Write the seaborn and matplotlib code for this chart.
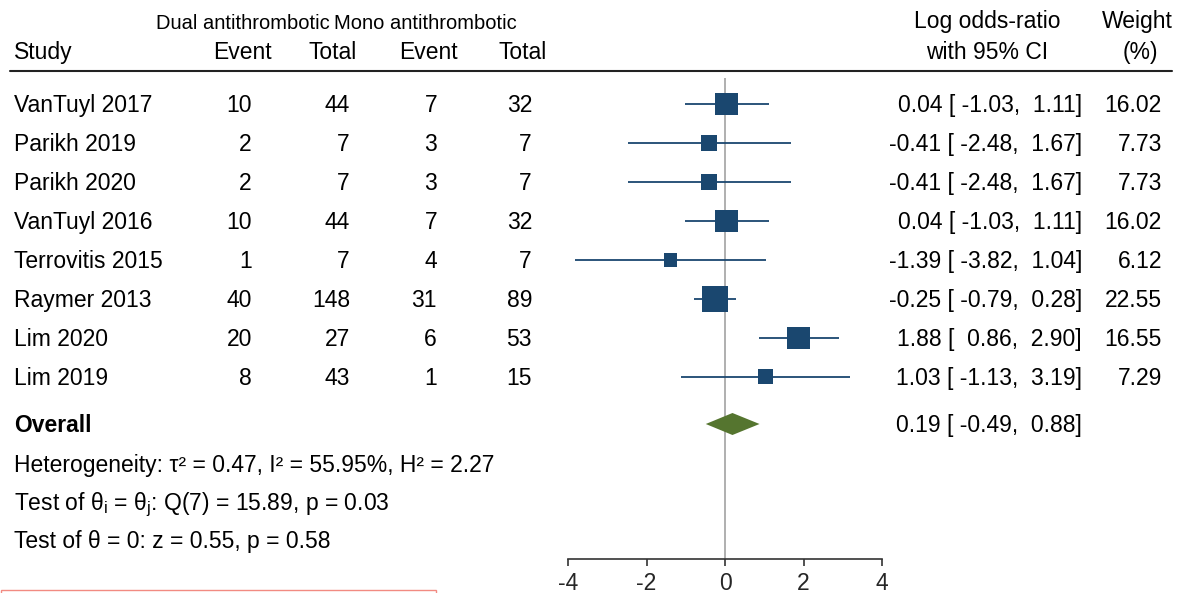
import numpy as np
import pandas as pd
import matplotlib
matplotlib.use("Agg")
import matplotlib.pyplot as plt
import seaborn as sns
from matplotlib.lines import Line2D
from matplotlib.patches import Rectangle

# ---------------- data ----------------
studies = ["VanTuyl 2017", "Parikh 2019", "Parikh 2020", "VanTuyl 2016",
           "Terrovitis 2015", "Raymer 2013", "Lim 2020", "Lim 2019"]
dual_event = [10, 2, 2, 10, 1, 40, 20, 8]
dual_total = [44, 7, 7, 44, 7, 148, 27, 43]
mono_event = [7, 3, 3, 7, 4, 31, 6, 1]
mono_total = [32, 7, 7, 32, 7, 89, 53, 15]
log_or = [0.04, -0.41, -0.41, 0.04, -1.39, -0.25, 1.88, 1.03]
ci_low = [-1.03, -2.48, -2.48, -1.03, -3.82, -0.79, 0.86, -1.13]
ci_high = [1.11, 1.67, 1.67, 1.11, 1.04, 0.28, 2.90, 3.19]
weights = [16.02, 7.73, 7.73, 16.02, 6.12, 22.55, 16.55, 7.29]
overall_est = 0.19
overall_low = -0.49
overall_high = 0.88
x_ticks = [-4, -2, 0, 2, 4]
het_text = "Heterogeneity: τ² = 0.47, I² = 55.95%, H² = 2.27"
q_text = r"Test of θ$_\mathregular{i}$ = θ$_\mathregular{j}$: Q(7) = 15.89, p = 0.03"
z_text = "Test of θ = 0: z = 0.55, p = 0.58"

# ---------------- style ----------------
sns.set_theme(style="white")
plt.rcParams["font.family"] = ["Liberation Sans", "DejaVu Sans"]
plt.rcParams["mathtext.fontset"] = "custom"
plt.rcParams["mathtext.rm"] = "Liberation Sans"
plt.rcParams["mathtext.it"] = "Liberation Sans:italic"
plt.rcParams["mathtext.bf"] = "Liberation Sans:bold"

W, H = 1182, 593
FS = 16.5
NAVY = "#1a476f"
GREEN = "#55752f"

fig = plt.figure(figsize=(W / 100, H / 100), dpi=100)


def fx(px):
    return px / W


def fy(py):
    return 1 - py / H


def put(px, py, s, ha="left", fs=FS, **kw):
    fig.text(fx(px), fy(py), s, ha=ha, va="baseline", fontsize=fs,
             color="black", **kw)


# forest axes: x -4..4 maps to pixels 568..882, y uses pixel rows
ax_top, ax_bot = 78, 559
ax = fig.add_axes([fx(568), fy(ax_bot), (882 - 568) / W, (ax_bot - ax_top) / H])
ax.set_xlim(-4, 4)
ax.set_ylim(ax_bot, ax_top)
ax.patch.set_alpha(0)

row0, step = 104, 39
rows = row0 + step * np.arange(len(studies))
overall_row = 424

df = pd.DataFrame({"study": studies, "lor": log_or, "lo": ci_low,
                   "hi": ci_high, "w": weights, "row": rows})

ax.axvline(0, color="#9a9a9a", lw=1.1, zorder=1)
ax.hlines(df["row"], df["lo"], df["hi"], color=NAVY, lw=1.3, zorder=2,
          clip_on=False)
k = 16.0
sns.scatterplot(data=df, x="lor", y="row", size="w",
                sizes=(k * min(weights), k * max(weights)),
                size_norm=(min(weights), max(weights)),
                marker="s", color=NAVY, linewidth=0, legend=False,
                zorder=3, ax=ax, clip_on=False)
half_h = 11
ax.fill([overall_low, overall_est, overall_high, overall_est],
        [overall_row, overall_row - half_h, overall_row, overall_row + half_h],
        color=GREEN, lw=0, zorder=3)

for side in ["top", "left", "right"]:
    ax.spines[side].set_visible(False)
ax.spines["bottom"].set_bounds(-4, 4)
ax.spines["bottom"].set_color("#333333")
ax.spines["bottom"].set_linewidth(1.2)
ax.set_xticks(x_ticks)
ax.set_xticklabels([str(t) for t in x_ticks], fontsize=FS)
ax.tick_params(axis="x", direction="out", length=5, width=1.2,
               color="#333333", pad=4, bottom=True)
ax.set_yticks([])
ax.set_xlabel("")
ax.set_ylabel("")

# ---------------- header ----------------
put(243, 29, "Dual antithrombotic", ha="center", fs=14.5)
put(425, 29, "Mono antithrombotic", ha="center", fs=14.5)
put(14, 59, "Study")
put(272, 59, "Event", ha="right")
put(357, 59, "Total", ha="right")
put(458, 59, "Event", ha="right")
put(547, 59, "Total", ha="right")
put(987, 28, "Log odds-ratio", ha="center")
put(987, 59, "with 95% CI", ha="center")
put(1137, 28, "Weight", ha="center")
put(1140, 59, "(%)", ha="center")
fig.add_artist(Line2D([fx(10), fx(1172)], [fy(71), fy(71)], color="#222222",
                      lw=1.5, transform=fig.transFigure))

# ---------------- rows ----------------
base = 8
for i, r in df.iterrows():
    yb = r["row"] + base
    put(14, yb, r["study"])
    put(252, yb, str(dual_event[i]), ha="right")
    put(350, yb, str(dual_total[i]), ha="right")
    put(437, yb, str(mono_event[i]), ha="right")
    put(532, yb, str(mono_total[i]), ha="right")
    put(1082, yb, f"{r['lor']:.2f} [{r['lo']:6.2f}, {r['hi']:5.2f}]", ha="right")
    put(1162, yb, f"{r['w']:.2f}", ha="right")

put(14, overall_row + base, "Overall", fontweight="bold")
put(1082, overall_row + base,
    f"{overall_est:.2f} [{overall_low:6.2f}, {overall_high:5.2f}]", ha="right")
put(14, 472, het_text)
put(14, 510, q_text)
put(14, 548, z_text)

# faint red box edge at the bottom
fig.add_artist(Rectangle((fx(1), fy(600)), 435 / W, 10 / H, fill=False,
                         edgecolor="#f28b82", lw=1.0,
                         transform=fig.transFigure))

fig.savefig("out.png", dpi=100)
